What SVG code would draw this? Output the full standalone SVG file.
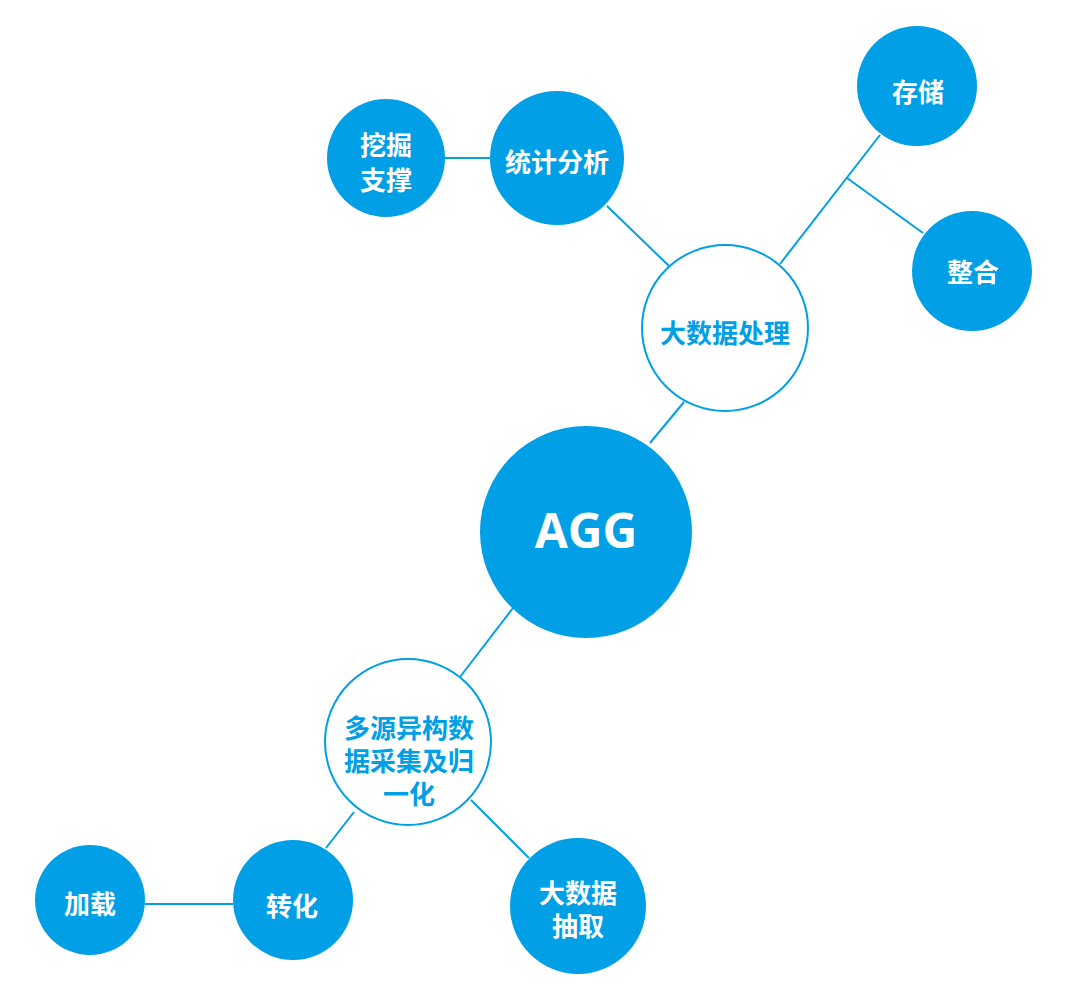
<svg xmlns="http://www.w3.org/2000/svg" width="1067" height="1007" viewBox="0 0 1067 1007">
<style>
.f{fill:#009FE6}
.o{fill:#fff;stroke:#009FE6;stroke-width:2}
.c line{stroke:#009FE6;stroke-width:2}
.t{font-family:"Noto Sans CJK SC","Microsoft YaHei",sans-serif;font-weight:bold;font-size:26px;text-anchor:middle;dominant-baseline:central}
.w{fill:#fff}
.b{fill:#009FE6}
.big{font-family:"Open Sans","Liberation Sans",sans-serif;font-weight:bold;font-size:48px;text-anchor:middle;fill:#fff}
</style>
<rect width="1067" height="1007" fill="#fff"/>
<g class="c" id="connectors">
<line x1="650" y1="443" x2="684" y2="402"/>
<line x1="607" y1="206" x2="669" y2="266"/>
<line x1="780" y1="264" x2="880" y2="135"/>
<line x1="847" y1="178" x2="923" y2="233"/>
<line x1="444" y1="158" x2="490" y2="158"/>
<line x1="513" y1="608" x2="460" y2="677"/>
<line x1="354" y1="812" x2="326" y2="848"/>
<line x1="471" y1="800" x2="529" y2="858"/>
<line x1="145" y1="904" x2="233" y2="904"/>
</g>
<g id="agg"><circle class="f" cx="586" cy="532" r="106"/><text class="big" x="586" y="548">AGG</text></g>
<g id="dsjcl"><circle class="o" cx="725" cy="328" r="83"/><text class="t b" x="725" y="331">大数据处理</text></g>
<g id="tjfx"><circle class="f" cx="557" cy="158" r="67"/><text class="t w" x="557" y="160">统计分析</text></g>
<g id="wjzc"><circle class="f" cx="386" cy="158" r="59"/><text class="t w" x="386" y="143">挖掘<tspan x="386" dy="35">支撑</tspan></text></g>
<g id="cc"><circle class="f" cx="917" cy="86" r="60"/><text class="t w" x="918" y="90">存储</text></g>
<g id="zh"><circle class="f" cx="972" cy="271" r="60"/><text class="t w" x="973" y="270">整合</text></g>
<g id="dyyg"><circle class="o" cx="408" cy="742" r="83"/><text class="t b" x="409" y="726">多源异构数<tspan x="409" dy="33">据采集及归</tspan><tspan x="409" dy="33">一化</tspan></text></g>
<g id="zhh"><circle class="f" cx="293" cy="900" r="60"/><text class="t w" x="292" y="904">转化</text></g>
<g id="jz"><circle class="f" cx="90" cy="900" r="55"/><text class="t w" x="90" y="902">加载</text></g>
<g id="cq"><circle class="f" cx="578" cy="906" r="68"/><text class="t w" x="578" y="891">大数据<tspan x="578" dy="33">抽取</tspan></text></g>
</svg>
